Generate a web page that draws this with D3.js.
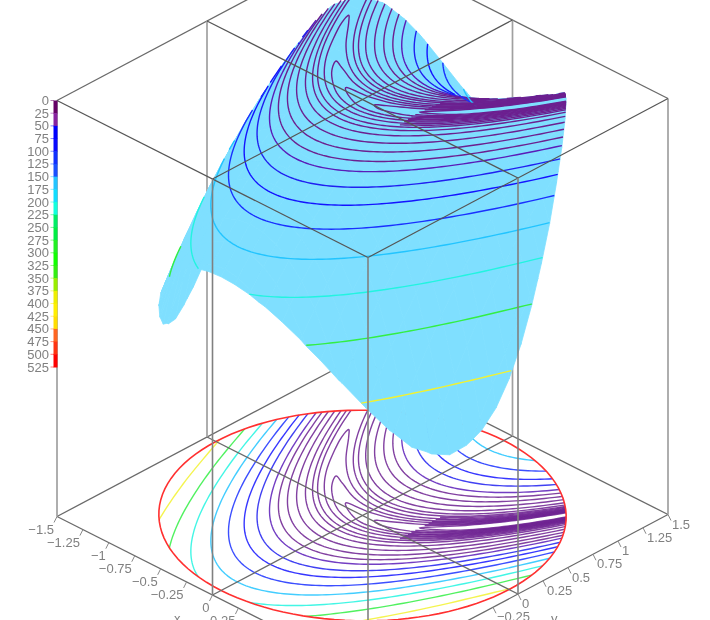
<!DOCTYPE html>
<html>
<head>
<meta charset="utf-8">
<script src="https://cdn.jsdelivr.net/npm/d3@7"></script>
<style>
  html, body { margin: 0; padding: 0; background: #fff; overflow: hidden; }
  #chart { display: block; filter: blur(0.5px); }
  text { font-family: "Liberation Sans", sans-serif; font-size: 13px; fill: #808080; }
</style>
</head>
<body>
<svg id="chart"></svg>
<script>
const containerWidth = 710;
const containerHeight = 620;

// contour heights, estimated from where each line crosses the front edge in the picture
// the last five only show along the dark band at the right end of the valley
const levels = [0.36, 0.8, 1.44, 2.25, 3.5, 5.5, 7.6, 11.4, 17.5, 25.5, 35, 46, 64, 86, 117, 158, 212, 285, 390, 0.58, 1.1, 1.8, 2.8, 4.4];
const levelColors = ["#6c2090", "#6c2090", "#6c2090", "#6c2090", "#6c2090", "#6c2090", "#6c2090", "#6c2090", "#6c2090", "#6c2090", "#6c2090", "#5a1cb8", "#2020f0", "#1414ff", "#1a30ff", "#22c4ff", "#22f4e0", "#33ee44", "#f2f230", "#6c2090", "#6c2090", "#6c2090", "#6c2090", "#6c2090"];

// each contour runs along the valley: x samples, valley centre, half width per level
const sampleX = [-1.45, -1.4, -1.2, -1, -0.8, -0.6, -0.4, -0.2, 0, 0.2, 0.4, 0.6, 0.8, 1, 1.2, 1.4, 1.45];
const valleyY = [2.1025, 1.96, 1.44, 1, 0.64, 0.36, 0.16, 0.04, 0, 0.04, 0.16, 0.36, 0.64, 1, 1.44, 1.96, 2.1025];
const halfWidths = [
  [null, null, null, null, null, null, null, null, null, null, null, 0.045, 0.057, 0.06, 0.057, 0.045, null],
  [null, null, null, null, null, null, null, null, null, 0.04, 0.066, 0.08, 0.087, 0.089, 0.087, 0.08, null],
  [null, null, null, null, null, null, null, null, 0.066, 0.089, 0.104, 0.113, 0.118, 0.12, 0.118, 0.113, null],
  [null, null, null, null, null, null, 0.054, 0.09, 0.112, 0.127, 0.137, 0.145, 0.149, 0.15, 0.149, 0.145, null],
  [null, null, null, null, 0.051, 0.097, 0.124, 0.144, 0.158, 0.169, 0.177, 0.183, 0.186, 0.187, 0.186, 0.183, null],
  [null, null, 0.081, 0.122, 0.15, 0.171, 0.188, 0.201, 0.212, 0.22, 0.227, 0.231, 0.234, 0.235, 0.234, 0.231, null],
  [null, 0.136, 0.166, 0.19, 0.209, 0.224, 0.237, 0.248, 0.257, 0.264, 0.269, 0.273, 0.275, 0.276, 0.275, 0.273, null],
  [null, 0.237, 0.256, 0.272, 0.286, 0.297, 0.307, 0.316, 0.322, 0.328, 0.332, 0.335, 0.337, 0.338, 0.337, 0.335, null],
  [null, 0.343, 0.356, 0.367, 0.378, 0.387, 0.394, 0.401, 0.406, 0.411, 0.414, 0.416, 0.418, 0.418, 0.418, 0.416, null],
  [null, 0.444, 0.455, 0.464, 0.472, 0.479, 0.485, 0.49, 0.495, 0.499, 0.501, 0.503, 0.505, 0.505, 0.505, 0.503, null],
  [null, 0.541, 0.549, 0.557, 0.564, 0.57, 0.575, 0.579, 0.583, 0.586, 0.589, 0.59, 0.591, 0.592, 0.591, 0.59, null],
  [null, 0.634, 0.642, 0.648, 0.654, 0.659, 0.664, 0.668, 0.671, 0.674, 0.676, 0.677, 0.678, 0.678, 0.678, 0.677, null],
  [null, 0.763, 0.769, 0.775, 0.779, 0.784, 0.788, 0.791, 0.794, 0.796, 0.798, 0.799, 0.8, 0.8, 0.8, 0.799, null],
  [null, 0.896, 0.901, 0.906, 0.91, 0.913, 0.917, 0.92, 0.922, 0.924, 0.925, 0.926, 0.927, 0.927, 0.927, 0.926, null],
  [null, 1.055, 1.059, 1.063, 1.067, 1.07, 1.073, 1.075, 1.077, 1.079, 1.08, 1.081, 1.081, 1.082, 1.081, 1.081, null],
  [null, 1.234, 1.238, 1.241, 1.244, 1.247, 1.249, 1.251, 1.253, 1.254, 1.256, 1.256, 1.257, 1.257, 1.257, 1.256, null],
  [null, 1.436, 1.439, 1.442, 1.445, 1.447, 1.449, 1.451, 1.453, 1.454, 1.455, 1.456, 1.456, 1.456, 1.456, 1.456, null],
  [null, 1.671, 1.674, 1.676, 1.679, 1.681, 1.682, 1.684, 1.685, 1.686, 1.687, 1.688, 1.688, 1.688, 1.688, 1.688, null],
  [1.96, 1.96, 1.963, 1.965, 1.967, 1.968, 1.97, 1.971, 1.972, 1.973, 1.974, 1.975, 1.975, 1.975, 1.975, 1.975, 1.974],
  [null, null, null, null, null, null, null, null, null, null, 0.047, 0.065, 0.073, 0.076, 0.073, 0.065, null],
  [null, null, null, null, null, null, null, null, null, null, 0.086, 0.097, 0.103, 0.105, 0.103, 0.097, null],
  [null, null, null, null, null, null, null, null, null, null, 0.12, 0.128, 0.133, 0.134, 0.133, 0.128, null],
  [null, null, null, null, null, null, null, null, null, null, 0.157, 0.163, 0.166, 0.167, 0.166, 0.163, null],
  [null, null, null, null, null, null, null, null, null, null, 0.201, 0.206, 0.209, 0.21, 0.209, 0.206, null]
];
// closed ends of the lowest contours, read from the lobes on the floor
const tipX = [0.4, 0.106, -0.2, -0.5, -0.871, -1.345];
const tipY = [0.16, 0.011, 0.04, 0.25, 0.759, 1.809];

const legendTicks = [0, 25, 50, 75, 100, 125, 150, 175, 200, 225, 250, 275, 300, 325, 350, 375, 400, 425, 450, 475, 500, 525];
const legendColors = ["#660066", "#8822a0", "#0000ff", "#0a0aff", "#1030ff", "#1a50ff", "#22c4ff", "#11ddff", "#11ffdd", "#00ee66", "#00ee44", "#22f022", "#11ff00", "#33ee11", "#99ee00", "#eeee00", "#ffee00", "#ffdd00", "#ff6622", "#ff3311", "#ff0000"];

const xTicks = [-1.5, -1.25, -1, -0.75, -0.5, -0.25, 0, 0.25];
const xTickLabels = ["−1.5", "−1.25", "−1", "−0.75", "−0.5", "−0.25", "0", "0.25"];
const yTicks = [-0.25, 0, 0.25, 0.5, 0.75, 1, 1.25, 1.5];
const yTickLabels = ["−0.25", "0", "0.25", "0.5", "0.75", "1", "1.25", "1.5"];

const rimRadius = 1.414;
const gridStart = -1.5;
const gridStep = 0.125;
const boxZ = 818;

// surface height per grid row (x = -1.5 ... 1.5), columns are y = -1.5 ... 1.5
// typed in by hand, estimates fitted to the curved valley seen in the picture
const heights = [
  [1412,1320,1231,1145,1062,983,906,833,763,695,631,570,512.6,457.9,406.3,357.9,312.6,270.4,231.3,195.4,162.6,132.9,106.3,82.9,62.6],
  [1155,1072,992,915,841,770.5,703,638.4,577.1,519,463.8,411.9,363,317.3,274.8,235.3,199,165.8,135.7,108.7,84.9,64.2,46.6,32.2,20.9],
  [943,868,796.1,727.4,661.7,599.2,539.9,483.6,430.5,380.5,333.6,289.9,249.2,211.7,177.4,146.1,118,93,71.1,52.4,36.7,24.2,14.83,8.58,5.45],
  [769.4,701.8,637.3,576,517.8,462.7,410.8,361.9,316.2,273.7,234.2,197.9,164.7,134.6,107.6,83.8,63.1,45.5,31.1,19.8,11.6,6.5,4.54,5.72,10],
  [629,568.1,510.3,455.6,404,355.6,310.3,268.1,229,193.1,160.3,130.6,104,80.6,60.3,43.1,29,18.06,10.25,5.56,4,5.56,10.25,18.06,29],
  [516.8,461.7,409.8,360.9,315.2,272.7,233.2,196.9,163.7,133.6,106.6,82.8,62.1,44.5,30.1,18.8,10.6,5.5,3.54,4.72,9.01,16.4,27,40.6,57.4],
  [428.5,378.5,331.6,287.9,247.2,209.7,175.4,144.1,116,91,69.1,50.4,34.7,22.2,12.83,6.58,3.45,3.45,6.58,12.83,22.2,34.7,50.4,69.1,91],
  [360,314.3,271.8,232.3,196,162.8,132.7,105.7,81.9,61.2,43.6,29.2,17.9,9.7,4.62,2.66,3.84,8.13,15.5,26.1,39.7,56.5,76.5,99.5,125.7],
  [308.6,266.4,227.3,191.4,158.6,128.9,102.3,78.9,58.6,41.4,27.3,16.31,8.5,3.81,2.25,3.81,8.5,16.31,27.3,41.4,58.6,78.9,102.3,128.9,158.6],
  [271.1,231.6,195.3,162.1,132,105,81.2,60.5,42.9,28.5,17.2,8.95,3.87,1.91,3.09,7.38,14.8,25.4,39,55.8,75.8,98.8,125,154.3,186.7],
  [245.7,208.2,173.9,142.6,114.5,89.5,67.6,48.9,33.2,20.7,11.33,5.08,1.95,1.95,5.08,11.33,20.7,33.2,48.9,67.6,89.5,114.5,142.6,173.9,208.2],
  [231,194.7,161.5,131.4,104.4,80.6,59.9,42.3,27.9,16.6,8.33,3.25,1.29,2.47,6.76,14.2,24.8,38.4,55.2,75.2,98.2,124.4,153.7,186.1,221.6],
  [226,190.1,157.3,127.6,101,77.6,57.3,40.1,26,15.1,7.25,2.56,1,2.56,7.25,15.1,26,40.1,57.3,77.6,101,127.6,157.3,190.1,226],
  [230.5,194.2,161,130.9,103.9,80.1,59.4,41.8,27.4,16.1,7.83,2.75,0.79,1.97,6.26,13.7,24.3,37.9,54.7,74.7,97.7,123.9,153.2,185.6,221.1],
  [244.7,207.2,172.9,141.6,113.5,88.5,66.6,47.9,32.2,19.7,10.33,4.08,0.95,0.95,4.08,10.33,19.7,32.2,47.9,66.6,88.5,113.5,141.6,172.9,207.2],
  [269.6,230.1,193.8,160.6,130.5,103.5,79.7,59,41.4,27,15.7,7.45,2.37,0.41,1.59,5.88,13.3,23.9,37.5,54.3,74.3,97.3,123.5,152.8,185.2],
  [306.6,264.4,225.3,189.4,156.6,126.9,100.3,76.9,56.6,39.4,25.3,14.31,6.5,1.81,0.25,1.81,6.5,14.31,25.3,39.4,56.6,76.9,100.3,126.9,156.6],
  [357.5,311.8,269.3,229.8,193.5,160.3,130.2,103.2,79.4,58.7,41.1,26.7,15.4,7.2,2.12,0.16,1.34,5.63,13,23.6,37.2,54,74,97,123.2],
  [425.5,375.5,328.6,284.9,244.2,206.7,172.4,141.1,113,88,66.1,47.4,31.7,19.2,9.83,3.58,0.45,0.45,3.58,9.83,19.2,31.7,47.4,66.1,88],
  [513.3,458.2,406.3,357.4,311.7,269.2,229.7,193.4,160.2,130.1,103.1,79.3,58.6,41,26.6,15.3,7.08,2,0.04,1.22,5.51,12.9,23.5,37.1,53.9],
  [625,564.1,506.3,451.6,400,351.6,306.3,264.1,225,189.1,156.3,126.6,100,76.6,56.3,39.1,25,14.06,6.25,1.56,0,1.56,6.25,14.06,25],
  [764.9,697.3,632.8,571.5,513.3,458.2,406.3,357.4,311.7,269.2,229.7,193.4,160.2,130.1,103.1,79.3,58.6,41,26.6,15.3,7.08,2,0.04,1.22,5.51],
  [938,863,791.1,722.4,656.7,594.2,534.9,478.6,425.5,375.5,328.6,284.9,244.2,206.7,172.4,141.1,113,88,66.1,47.4,31.7,19.2,9.83,3.58,0.45],
  [1150,1067,986,910,836,765,697.4,632.9,571.6,513.4,458.3,406.4,357.5,311.8,269.3,229.8,193.5,160.3,130.2,103.2,79.4,58.7,41.1,26.7,15.4],
  [1406,1314,1225,1139,1056,977,900,827,757,689,625,564,506.6,451.9,400.3,351.9,306.6,264.4,225.3,189.4,156.6,126.9,100.3,76.9,56.6]
];

const svg = d3.select("#chart")
  .attr("width", containerWidth)
  .attr("height", containerHeight);

// the box is drawn in parallel projection, each data axis gets its own pixel scales
const xToX = d3.scaleLinear().domain([-1.5, 1.5]).range([-155.5, 155.5]);
const xToY = d3.scaleLinear().domain([-1.5, 1.5]).range([-78.5, 78.5]);
const yToX = d3.scaleLinear().domain([-1.5, 1.5]).range([-150, 150]);
const yToY = d3.scaleLinear().domain([-1.5, 1.5]).range([79.5, -79.5]);
const zToY = d3.scaleLinear().domain([0, 525]).range([0, 267]);
const originX = 362.5;
const originY = 99.5;

const project = (x, y, z) => [
  originX + xToX(x) + yToX(y),
  originY + xToY(x) + yToY(y) + zToY(z)
];

const n = heights.length;
const straight = d3.line();

// where the segment a-b crosses the rim, as fractions along it
function rimCrossings(a, b) {
  const dx = b[0] - a[0], dy = b[1] - a[1];
  const qa = dx * dx + dy * dy;
  if (qa === 0) return [];
  const qb = 2 * (a[0] * dx + a[1] * dy);
  const qc = a[0] * a[0] + a[1] * a[1] - rimRadius * rimRadius;
  const disc = qb * qb - 4 * qa * qc;
  if (disc <= 0) return [];
  const s = Math.sqrt(disc);
  return [(-qb - s) / (2 * qa), (-qb + s) / (2 * qa)].filter(t => t > 0 && t < 1);
}
const inside = (p) => p[0] * p[0] + p[1] * p[1] <= rimRadius * rimRadius;
const lerp = (a, b, t) => a.map((v, i) => v + (b[i] - v) * t);

function clipLine(line) {
  const runs = [];
  let cur = inside(line[0]) ? [line[0]] : null;
  for (let i = 0; i < line.length - 1; i++) {
    const a = line[i], b = line[i + 1];
    rimCrossings(a, b).forEach(t => {
      const p = lerp(a, b, t);
      if (cur) { cur.push(p); runs.push(cur); cur = null; }
      else cur = [p];
    });
    if (cur && inside(b)) cur.push(b);
  }
  if (cur) runs.push(cur);
  return runs;
}

// cell polygon cut down to the disc
function clipCell(corners) {
  const out = [];
  corners.forEach((a, i) => {
    const b = corners[(i + 1) % corners.length];
    if (inside(a)) out.push(a);
    rimCrossings(a, b).forEach(t => out.push(lerp(a, b, t)));
  });
  return out;
}

const corner = (i, j) => [gridStart + i * gridStep, gridStart + j * gridStep, heights[i][j]];

// positive d3 area means this cell of the surface is turned towards the viewer
function cellFacing(x, y) {
  const i = Math.max(0, Math.min(n - 2, Math.floor((x - gridStart) / gridStep)));
  const j = Math.max(0, Math.min(n - 2, Math.floor((y - gridStart) / gridStep)));
  const pts = [corner(i, j), corner(i + 1, j), corner(i + 1, j + 1), corner(i, j + 1)].map(p => project(p[0], p[1], p[2]));
  return d3.polygonArea(pts) > 0;
}

function facingRuns(run) {
  const out = [];
  let cur = null;
  for (let i = 0; i < run.length - 1; i++) {
    const m = lerp(run[i], run[i + 1], 0.5);
    if (cellFacing(m[0], m[1])) {
      if (!cur) cur = [run[i]];
      cur.push(run[i + 1]);
    } else if (cur) {
      out.push(cur);
      cur = null;
    }
  }
  if (cur) out.push(cur);
  return out;
}

// rounds off the polyline through the samples (Catmull-Rom in data space)
function smoothLine(pts) {
  const out = [];
  const steps = 10;
  for (let i = 0; i < pts.length - 1; i++) {
    const p0 = pts[Math.max(i - 1, 0)], p1 = pts[i], p2 = pts[i + 1], p3 = pts[Math.min(i + 2, pts.length - 1)];
    for (let s = 0; s < steps; s++) {
      const t = s / steps;
      out.push([0, 1].map(k => 0.5 * (2 * p1[k] + (p2[k] - p0[k]) * t
        + (2 * p0[k] - 5 * p1[k] + 4 * p2[k] - p3[k]) * t * t
        + (3 * p1[k] - p0[k] - 3 * p2[k] + p3[k]) * t * t * t)));
    }
  }
  out.push(pts[pts.length - 1]);
  return out;
}

// contour runs per level, in data coordinates
const contourRuns = levels.map((level, li) => {
  const upper = [], lower = [];
  sampleX.forEach((x, i) => {
    const h = halfWidths[li][i];
    if (h === null) return;
    upper.push([x, valleyY[i] + h]);
    lower.push([x, valleyY[i] - h]);
  });
  const tip = li < tipX.length ? [[tipX[li], tipY[li]]] : [];
  const pieces = tip.length
    ? [lower.slice().reverse().concat(tip, upper)]
    : [lower, upper];
  return { level, color: levelColors[li], runs: pieces.flatMap(p => clipLine(smoothLine(p))) };
});

const boxLine = (pts, color, width, parent) => parent.append("path")
  .attr("d", straight(pts.map(p => project(p[0], p[1], p[2]))))
  .attr("fill", "none")
  .attr("stroke", color)
  .attr("stroke-width", width);

const behind = svg.append("g");

// contours on the floor of the box
const floorG = behind.append("g");
contourRuns.forEach(c => {
  floorG.selectAll(null)
    .data(c.runs.filter(r => r.length > 1))
    .join("path")
    .attr("d", r => straight(r.map(p => project(p[0], p[1], boxZ))))
    .attr("fill", "none")
    .attr("stroke", c.color)
    .attr("stroke-opacity", 0.85)
    .attr("stroke-width", 1.4);
});

// rim on the floor
const rimAngles = d3.range(0, 361, 3).map(a => a * Math.PI / 180);
floorG.append("path")
  .attr("d", straight(rimAngles.map(a => project(rimRadius * Math.cos(a), rimRadius * Math.sin(a), boxZ))))
  .attr("fill", "none")
  .attr("stroke", "#ff3030")
  .attr("stroke-width", 1.6);

// edges that the surface hides
const backEdges = [
  [[-1.5, -1.5, 0], [-1.5, 1.5, 0]],
  [[-1.5, 1.5, 0], [1.5, 1.5, 0]],
  [[-1.5, -1.5, boxZ], [-1.5, 1.5, boxZ]],
  [[-1.5, 1.5, boxZ], [1.5, 1.5, boxZ]],
  [[-1.5, -1.5, boxZ], [1.5, -1.5, boxZ]],
  [[1.5, -1.5, boxZ], [1.5, 1.5, boxZ]],
  [[0, -1.5, boxZ], [0, 1.5, boxZ]],
  [[1.5, 0, boxZ], [-1.5, 0, boxZ]]
];
const backUprights = [
  [[-1.5, -1.5, 0], [-1.5, -1.5, boxZ]],
  [[1.5, 1.5, 0], [1.5, 1.5, boxZ]],
  [[-1.5, 0, 0], [-1.5, 0, boxZ]],
  [[0, 1.5, 0], [0, 1.5, boxZ]]
];
backEdges.forEach(e => boxLine(e, "#6a6a6a", 1.3, behind));
backUprights.forEach(e => boxLine(e, "#a0a0a0", 1.7, behind));

// tick marks and labels
const axisG = svg.append("g");
xTicks.forEach((t, i) => {
  const p = project(t, -1.5, boxZ);
  axisG.append("line").attr("x1", p[0]).attr("y1", p[1]).attr("x2", p[0] - 3).attr("y2", p[1] + 6)
    .attr("stroke", "#888").attr("stroke-width", 1);
  axisG.append("text").attr("x", p[0] - 3).attr("y", p[1] + 17).attr("text-anchor", "end").text(xTickLabels[i]);
});
yTicks.forEach((t, i) => {
  const p = project(1.5, t, boxZ);
  axisG.append("line").attr("x1", p[0]).attr("y1", p[1]).attr("x2", p[0] + 3).attr("y2", p[1] + 6)
    .attr("stroke", "#888").attr("stroke-width", 1);
  axisG.append("text").attr("x", p[0] + 4).attr("y", p[1] + 14).attr("text-anchor", "start").text(yTickLabels[i]);
});
axisG.append("text").attr("x", 174).attr("y", 623).text("x");
axisG.append("text").attr("x", 551).attr("y", 623).text("y");

// the surface, cell by cell
const cells = [];
d3.range(n - 1).forEach(i => d3.range(n - 1).forEach(j => {
  const poly = clipCell([corner(i, j), corner(i + 1, j), corner(i + 1, j + 1), corner(i, j + 1)]);
  if (poly.length > 2) cells.push(poly);
}));
svg.append("g").selectAll("path")
  .data(cells)
  .join("path")
  .attr("d", poly => straight(poly.map(p => project(p[0], p[1], p[2]))) + "Z")
  .attr("fill", "#7fdfff")
  .attr("stroke", "#7fdfff")
  .attr("stroke-width", 0.8);

// contours on the surface
const surfG = svg.append("g");
contourRuns.forEach(c => {
  const visible = c.runs.flatMap(facingRuns).filter(r => r.length > 1);
  surfG.selectAll(null)
    .data(visible)
    .join("path")
    .attr("d", r => straight(r.map(p => project(p[0], p[1], c.level))))
    .attr("fill", "none")
    .attr("stroke", c.color)
    .attr("stroke-width", 1.4);
});

// edges in front of the surface
const frontEdges = [
  [[-1.5, -1.5, 0], [1.5, -1.5, 0]],
  [[1.5, -1.5, 0], [1.5, 1.5, 0]],
  [[0, -1.5, 0], [0, 1.5, 0]],
  [[1.5, 0, 0], [-1.5, 0, 0]]
];
const frontUprights = [
  [[1.5, -1.5, 0], [1.5, -1.5, boxZ]],
  [[0, -1.5, 0], [0, -1.5, boxZ]],
  [[1.5, 0, 0], [1.5, 0, boxZ]]
];
frontEdges.forEach(e => boxLine(e, "#555", 1.2, svg));
frontUprights.forEach(e => boxLine(e, "#808080", 1.6, svg));

// colour bar along the left edge
const legendScale = d3.scaleLinear().domain([0, 525]).range([100.5, 367]);
const legendG = svg.append("g");
legendG.selectAll("rect")
  .data(legendColors)
  .join("rect")
  .attr("x", 53.5)
  .attr("y", (d, i) => legendScale(legendTicks[i]))
  .attr("width", 4)
  .attr("height", (d, i) => legendScale(legendTicks[i + 1]) - legendScale(legendTicks[i]) + 0.5)
  .attr("fill", d => d);
legendG.selectAll("line")
  .data(legendTicks)
  .join("line")
  .attr("x1", 50.5)
  .attr("x2", 54)
  .attr("y1", d => legendScale(d))
  .attr("y2", d => legendScale(d))
  .attr("stroke", (d, i) => legendColors[Math.min(i, legendColors.length - 1)])
  .attr("stroke-opacity", 0.5);
legendG.selectAll("text")
  .data(legendTicks)
  .join("text")
  .attr("x", 49)
  .attr("y", d => legendScale(d) + 4.5)
  .attr("text-anchor", "end")
  .text(d => d);
</script>
</body>
</html>
